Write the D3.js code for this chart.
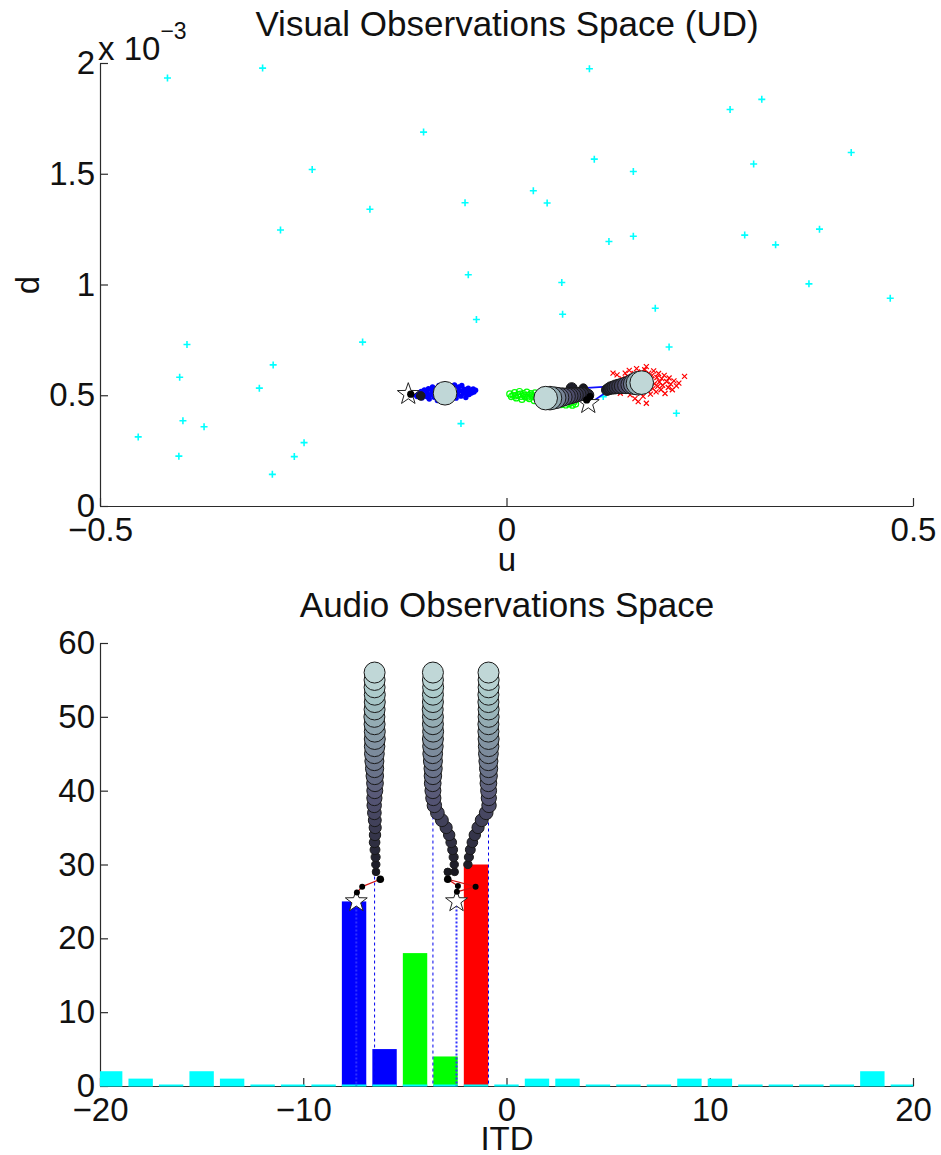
<!DOCTYPE html>
<html><head><meta charset="utf-8">
<script src="https://cdn.jsdelivr.net/npm/d3@7"></script>
<style>
body{margin:0;background:#fff}
svg{display:block}
text{font-family:"Liberation Sans",Arial,Helvetica,sans-serif;fill:#111}
</style>
</head><body>
<svg id="chart" width="941" height="1155"></svg>
<script>
// ---------------- DATA ----------------
const topXTicks = [-0.5, 0, 0.5];
const topXTickLabels = ["\u22120.5", "0", "0.5"];
const topYTicks = [0, 0.5, 1, 1.5, 2];
const topYTickLabels = ["0", "0.5", "1", "1.5", "2"];

const clutterUD = [[-0.417,1.932],[-0.300,1.977],[-0.102,1.688],[-0.239,1.519],[-0.051,1.369],[-0.168,1.340],[-0.278,1.246],[-0.047,1.044],[-0.037,0.842],[-0.177,0.740],[-0.393,0.729],[-0.287,0.637],[-0.402,0.581],[-0.304,0.532],[-0.056,0.372],[-0.398,0.385],[-0.372,0.358],[-0.453,0.312],[-0.249,0.286],[-0.403,0.225],[-0.261,0.223],[-0.288,0.143],[0.102,1.974],[0.314,1.836],[0.275,1.790],[0.424,1.596],[0.108,1.566],[0.304,1.544],[0.156,1.510],[0.033,1.423],[0.050,1.368],[0.385,1.250],[0.156,1.218],[0.293,1.223],[0.126,1.194],[0.331,1.179],[0.068,1.009],[0.372,1.003],[0.472,0.938],[0.183,0.893],[0.069,0.866],[0.200,0.718],[0.209,0.419],[0.119,0.494]];

const blueParticles = [[-0.112,0.502],[-0.110,0.494],[-0.109,0.510],[-0.107,0.499],[-0.105,0.517],[-0.104,0.488],[-0.102,0.506],[-0.101,0.524],[-0.099,0.495],[-0.098,0.513],[-0.096,0.530],[-0.095,0.483],[-0.094,0.502],[-0.092,0.521],[-0.091,0.538],[-0.089,0.491],[-0.088,0.509],[-0.086,0.527],[-0.085,0.476],[-0.083,0.544],[-0.082,0.498],[-0.080,0.516],[-0.079,0.534],[-0.077,0.485],[-0.076,0.472],[-0.074,0.505],[-0.073,0.541],[-0.071,0.523],[-0.070,0.479],[-0.068,0.495],[-0.067,0.531],[-0.065,0.512],[-0.064,0.546],[-0.062,0.487],[-0.061,0.502],[-0.059,0.537],[-0.058,0.520],[-0.056,0.496],[-0.055,0.544],[-0.053,0.509],[-0.052,0.527],[-0.050,0.490],[-0.049,0.515],[-0.047,0.532],[-0.046,0.503],[-0.044,0.520],[-0.043,0.510],[-0.041,0.528],[-0.040,0.515],[-0.038,0.523],[-0.108,0.505],[-0.097,0.492],[-0.090,0.515],[-0.084,0.503],[-0.078,0.522],[-0.072,0.510],[-0.066,0.498],[-0.060,0.512],[-0.054,0.520],[-0.048,0.508]];

const greenParticles = [[0.004,0.506],[0.006,0.494],[0.008,0.500],[0.010,0.512],[0.012,0.488],[0.014,0.503],[0.016,0.517],[0.018,0.495],[0.019,0.481],[0.021,0.508],[0.023,0.492],[0.025,0.514],[0.027,0.500],[0.028,0.485],[0.030,0.507],[0.032,0.494],[0.034,0.476],[0.035,0.511],[0.037,0.498],[0.039,0.486],[0.041,0.503],[0.043,0.472],[0.045,0.492],[0.047,0.509],[0.049,0.480],[0.051,0.497],[0.053,0.468],[0.055,0.486],[0.057,0.503],[0.059,0.474],[0.061,0.462],[0.063,0.489],[0.065,0.470],[0.067,0.458],[0.069,0.481],[0.071,0.466],[0.073,0.456],[0.075,0.473],[0.077,0.462],[0.079,0.468],[0.081,0.455],[0.083,0.470],[0.085,0.460],[0.011,0.497],[0.017,0.505],[0.022,0.500],[0.026,0.491],[0.031,0.501],[0.036,0.490],[0.040,0.495]];

const redParticles = [[0.131,0.600],[0.136,0.592],[0.138,0.560],[0.140,0.509],[0.142,0.575],[0.144,0.545],[0.146,0.600],[0.147,0.528],[0.149,0.585],[0.150,0.560],[0.151,0.612],[0.152,0.502],[0.154,0.540],[0.155,0.578],[0.156,0.520],[0.157,0.598],[0.158,0.485],[0.159,0.565],[0.160,0.620],[0.161,0.530],[0.162,0.471],[0.163,0.590],[0.164,0.548],[0.165,0.510],[0.166,0.605],[0.167,0.575],[0.168,0.495],[0.169,0.535],[0.170,0.615],[0.171,0.555],[0.172,0.464],[0.172,0.629],[0.173,0.585],[0.174,0.520],[0.175,0.600],[0.176,0.545],[0.177,0.505],[0.178,0.570],[0.179,0.590],[0.180,0.530],[0.181,0.610],[0.182,0.552],[0.184,0.515],[0.185,0.580],[0.186,0.540],[0.187,0.598],[0.188,0.560],[0.190,0.525],[0.191,0.575],[0.192,0.545],[0.194,0.590],[0.195,0.508],[0.197,0.562],[0.199,0.535],[0.200,0.578],[0.202,0.550],[0.204,0.525],[0.206,0.565],[0.209,0.542],[0.212,0.555],[0.219,0.585]];

// visual tracks: [t, u, d]
const visualTrackBlue = [[29,-0.1055,0.497],[56,-0.0756,0.509]];
const visualTrackGreen = [[29,0.0945,0.532],[30,0.0802,0.532],[31,0.1002,0.501],[32,0.0966,0.506],[33,0.0929,0.506],[34,0.0892,0.504],[35,0.0855,0.501],[36,0.0818,0.499],[37,0.0781,0.497],[38,0.0744,0.495],[40,0.0695,0.492],[42,0.0646,0.490],[45,0.0597,0.488],[50,0.0535,0.487],[56,0.0482,0.487]];
const visualTrackRed = [[30,0.1236,0.524],[31,0.1261,0.529],[32,0.1285,0.533],[33,0.1316,0.535],[34,0.1347,0.538],[35,0.1384,0.540],[36,0.1421,0.542],[38,0.147,0.545],[40,0.1519,0.548],[44,0.1568,0.551],[50,0.1617,0.554],[56,0.1663,0.557]];
const visualLinks = [[0.0945,0.532,0.1236,0.539],[0.1027,0.464,0.1236,0.516]];
const visualDots = [[-0.1178,0.505],[0.0986,0.479],[0.1027,0.494]];
const visualStars = [[-0.1208,0.505],[0.1006,0.464]];

// Bottom panel
const bottomXTicks = [-20, -10, 0, 10, 20];
const bottomXTickLabels = ["\u221220", "\u221210", "0", "10", "20"];
const bottomYTicks = [0, 10, 20, 30, 40, 50, 60];
const bottomYTickLabels = ["0", "10", "20", "30", "40", "50", "60"];

const itdBinCenters = [-19.5,-18,-16.5,-15,-13.5,-12,-10.5,-9,-7.5,-6,-4.5,-3,-1.5,0,1.5,3,4.5,6,7.5,9,10.5,12,13.5,15,16.5,18,19.5];
const clutterCounts = [2,1,0,2,1,0,0,0,0,0,0,0,0,0,1,1,0,0,0,1,1,0,0,0,0,2,0];
const blueBars = [[-7.5,25],[-6,5]];
const greenBars = [[-4.5,18],[-3,4]];
const redBars = [[-1.5,30]];

// audio tracks: [t, itd]
const audioTrackA = [[29,-6.42],[30,-6.43],[31,-6.44],[32,-6.47],[33,-6.49],[34,-6.47],[35,-6.46],[36,-6.48],[37,-6.50],[38,-6.51],[39,-6.50],[40,-6.48],[41,-6.47],[42,-6.48],[43,-6.49],[44,-6.50],[45,-6.50],[46,-6.49],[47,-6.48],[48,-6.48],[49,-6.49],[50,-6.50],[51,-6.49],[52,-6.48],[53,-6.48],[54,-6.49],[55,-6.49],[56,-6.49]];
const audioTrackB = [[29,-2.89],[30,-2.57],[31,-2.60],[32,-2.65],[33,-2.72],[34,-2.82],[35,-2.97],[36,-3.18],[37,-3.40],[38,-3.55],[39,-3.60],[40,-3.62],[41,-3.63],[42,-3.62],[43,-3.61],[44,-3.62],[45,-3.63],[46,-3.62],[47,-3.62],[48,-3.61],[49,-3.62],[50,-3.62],[51,-3.63],[52,-3.62],[53,-3.62],[54,-3.61],[55,-3.62],[56,-3.62]];
const audioTrackC = [[29,-2.55],[30,-1.90],[31,-1.85],[32,-1.78],[33,-1.68],[34,-1.56],[35,-1.40],[36,-1.22],[37,-1.00],[38,-0.86],[39,-0.87],[40,-0.88],[41,-0.89],[42,-0.88],[43,-0.88],[44,-0.89],[45,-0.89],[46,-0.88],[47,-0.88],[48,-0.89],[49,-0.89],[50,-0.88],[51,-0.88],[52,-0.89],[53,-0.89],[54,-0.88],[55,-0.88],[56,-0.885]];
const audioFinalItd = [-6.49, -3.62, -0.885];
const audioStars = [[-7.39,25],[-2.46,25]];
const audioDots = [[-6.21,28],[-7.10,27],[-7.36,26.2],[-2.89,28],[-2.39,27.1],[-1.52,27.0],[-2.44,26.3]];
const audioLinks = [[-6.21,28,-7.10,27],[-7.10,27,-7.36,26.2],[-2.89,28,-2.39,27.1],[-2.89,28,-1.52,27.0],[-1.52,27.0,-2.44,26.3]];

// ---------------- DRAWING ----------------
const svg = d3.select("#chart");
const FS = 33;
const TFS = 35;
const axisColor = "#2b2b2b";

function bone(x){
  const cl = v => Math.max(0, Math.min(1, v));
  const hr = cl(x*8/3), hg = cl((x-3/8)*8/3), hb = cl((x-3/4)*4);
  return d3.rgb(255*(7*x+hb)/8, 255*(7*x+hg)/8, 255*(7*x+hr)/8);
}
const tColor = t => t <= 28 ? "#000" : bone(0.08 + (t-28)/28*0.74);
const rBottom = t => t <= 28 ? 3.7 : Math.min(10.5, 3.8 + (t-29)*0.38);
const rTop = t => t <= 29 ? 4.3 : Math.min(11.8, 5.5 + (t-30)*0.36);

function starPath(R){
  const r = R*0.4; let p = "";
  for (let i=0;i<10;i++){
    const a = -Math.PI/2 + i*Math.PI/5, rr = i%2 ? r : R;
    p += (i ? "L" : "M") + (rr*Math.cos(a)).toFixed(2) + "," + (rr*Math.sin(a)).toFixed(2);
  }
  return p + "Z";
}

function styleAxis(g){
  g.selectAll("path.domain").attr("stroke", axisColor).attr("stroke-width", 1.2);
  g.selectAll(".tick line").attr("stroke", axisColor).attr("stroke-width", 1.2);
  g.selectAll(".tick text").attr("font-size", FS).attr("fill", "#111")
   .attr("font-family", '"Liberation Sans",Arial,Helvetica,sans-serif');
}

// ===== TOP PANEL =====
const xU = d3.scaleLinear().domain([-0.5, 0.5]).range([100, 913]);
const yD = d3.scaleLinear().domain([0, 2]).range([506, 63]);

const defs = svg.append("defs");
defs.append("clipPath").attr("id","clipTop")
  .append("rect").attr("x",100).attr("y",63).attr("width",813).attr("height",443);
defs.append("clipPath").attr("id","clipBot")
  .append("rect").attr("x",100).attr("y",600).attr("width",813).attr("height",487);

const gTopX = svg.append("g").attr("transform","translate(0,506)")
  .call(d3.axisBottom(xU).tickValues(topXTicks).tickFormat((d,i)=>topXTickLabels[i]).tickSizeInner(-8).tickSizeOuter(0).tickPadding(12));
styleAxis(gTopX);
const gTopY = svg.append("g").attr("transform","translate(100,0)")
  .call(d3.axisLeft(yD).tickValues(topYTicks).tickFormat((d,i)=>topYTickLabels[i]).tickSizeInner(-8).tickSizeOuter(0).tickPadding(5));
styleAxis(gTopY);

const gTop = svg.append("g").attr("clip-path","url(#clipTop)");

gTop.selectAll("path.clut").data(clutterUD).join("path").attr("class","clut")
  .attr("transform", d => `translate(${xU(d[0])},${yD(d[1])})`)
  .attr("d","M-3.5,0H3.5M0,-3.5V3.5").attr("stroke","#00ffff").attr("stroke-width",1.6).attr("fill","none");

gTop.selectAll("circle.bp").data(blueParticles).join("circle").attr("class","bp")
  .attr("cx", d=>xU(d[0])).attr("cy", d=>yD(d[1])).attr("r",2.7).attr("fill","#0000ff");
gTop.selectAll("circle.gp").data(greenParticles).join("circle").attr("class","gp")
  .attr("cx", d=>xU(d[0])).attr("cy", d=>yD(d[1])).attr("r",3).attr("fill","none").attr("stroke","#00ff00").attr("stroke-width",1.2);
gTop.selectAll("path.rp").data(redParticles).join("path").attr("class","rp")
  .attr("transform", d => `translate(${xU(d[0])},${yD(d[1])})`)
  .attr("d","M-2.5,-2.5L2.5,2.5M-2.5,2.5L2.5,-2.5").attr("stroke","#ff0000").attr("stroke-width",1.2);

gTop.selectAll("line.vl").data(visualLinks).join("line").attr("class","vl")
  .attr("x1",d=>xU(d[0])).attr("y1",d=>yD(d[1])).attr("x2",d=>xU(d[2])).attr("y2",d=>yD(d[3]))
  .attr("stroke","#1010ff").attr("stroke-width",1.6);

gTop.selectAll("path.vs").data(visualStars).join("path").attr("class","vs")
  .attr("transform", d => `translate(${xU(d[0])},${yD(d[1])})`)
  .attr("d", starPath(11.5)).attr("fill","#fff").attr("stroke","#222").attr("stroke-width",1);

[visualTrackGreen, visualTrackRed, visualTrackBlue].forEach(tr => {
  gTop.append("g").selectAll("circle").data(tr).join("circle")
    .attr("cx", d=>xU(d[1])).attr("cy", d=>yD(d[2])).attr("r", d=>rTop(d[0]))
    .attr("fill", d=>tColor(d[0])).attr("stroke","#1a1a1a").attr("stroke-width",1);
});
gTop.selectAll("circle.vd").data(visualDots).join("circle").attr("class","vd")
  .attr("cx", d=>xU(d[0])).attr("cy", d=>yD(d[1])).attr("r",3.6).attr("fill","#000");

svg.append("text").attr("x",507).attr("y",36).attr("text-anchor","middle").attr("font-size",TFS)
  .text("Visual Observations Space (UD)");
svg.append("text").attr("x",507).attr("y",571).attr("text-anchor","middle").attr("font-size",FS).text("u");
svg.append("text").attr("transform","translate(39,285) rotate(-90)").attr("text-anchor","middle").attr("font-size",FS).text("d");
const sci = svg.append("text").attr("x",98).attr("y",60).attr("font-size",FS);
sci.append("tspan").text("x 10");
sci.append("tspan").attr("font-size",23).attr("dy",-21).text("\u22123");

// ===== BOTTOM PANEL =====
const xI = d3.scaleLinear().domain([-20, 20]).range([100, 913]);
const yT = d3.scaleLinear().domain([0, 60]).range([1086, 643]);

const gBotX = svg.append("g").attr("transform","translate(0,1086)")
  .call(d3.axisBottom(xI).tickValues(bottomXTicks).tickFormat((d,i)=>bottomXTickLabels[i]).tickSizeInner(-8).tickSizeOuter(0).tickPadding(12));
styleAxis(gBotX);
const gBotY = svg.append("g").attr("transform","translate(100,0)")
  .call(d3.axisLeft(yT).tickValues(bottomYTicks).tickFormat((d,i)=>bottomYTickLabels[i]).tickSizeInner(-8).tickSizeOuter(0).tickPadding(5));
styleAxis(gBotY);

const gBot = svg.append("g").attr("clip-path","url(#clipBot)");
const barW = 1.2;
function drawBars(data, color){
  gBot.append("g").selectAll("rect").data(data).join("rect")
    .attr("x", d=>xI(d[0]-barW/2)).attr("width", xI(barW)-xI(0))
    .attr("y", d=>yT(d[1])).attr("height", d=>yT(0)-yT(d[1]))
    .attr("fill", color);
}
drawBars(blueBars, "#0000ff");
drawBars(greenBars, "#00ff00");
drawBars(redBars, "#ff0000");
gBot.append("g").selectAll("rect").data(itdBinCenters.map((c,i)=>[c, clutterCounts[i]])).join("rect")
  .attr("x", d=>xI(d[0]-barW/2)).attr("width", xI(barW)-xI(0))
  .attr("y", d=>Math.min(yT(d[1]), yT(0)-1.5)).attr("height", d=>Math.max(yT(0)-yT(d[1]), 1.5)+0.5)
  .attr("fill", "#00ffff");

gBot.selectAll("line.fl").data(audioFinalItd).join("line").attr("class","fl")
  .attr("x1",d=>xI(d)).attr("x2",d=>xI(d)).attr("y1",yT(56)).attr("y2",yT(0))
  .attr("stroke","#0000ee").attr("stroke-width",1).attr("stroke-dasharray","3,3");
gBot.selectAll("line.sl").data(audioStars).join("line").attr("class","sl")
  .attr("x1",d=>xI(d[0])).attr("x2",d=>xI(d[0])).attr("y1",d=>yT(d[1])).attr("y2",yT(0))
  .attr("stroke","#3030ff").attr("stroke-width",2).attr("stroke-dasharray","2,2");

[audioTrackA, audioTrackB, audioTrackC].forEach(tr => {
  gBot.append("g").selectAll("circle").data(tr).join("circle")
    .attr("cx", d=>xI(d[1])).attr("cy", d=>yT(d[0])).attr("r", d=>rBottom(d[0]))
    .attr("fill", d=>tColor(d[0])).attr("stroke","#1a1a1a").attr("stroke-width",1);
});
gBot.selectAll("line.al").data(audioLinks).join("line").attr("class","al")
  .attr("x1",d=>xI(d[0])).attr("y1",d=>yT(d[1])).attr("x2",d=>xI(d[2])).attr("y2",d=>yT(d[3]))
  .attr("stroke","#d01010").attr("stroke-width",1.2);
gBot.selectAll("path.as").data(audioStars).join("path").attr("class","as")
  .attr("transform", d => `translate(${xI(d[0])},${yT(d[1])})`)
  .attr("d", starPath(11.5)).attr("fill","#fff").attr("stroke","#222").attr("stroke-width",1);
gBot.selectAll("circle.ad").data(audioDots).join("circle").attr("class","ad")
  .attr("cx", d=>xI(d[0])).attr("cy", d=>yT(d[1])).attr("r", d=> d[1] >= 28 ? 3.8 : 3)
  .attr("fill","#000");

svg.append("text").attr("x",507).attr("y",617).attr("text-anchor","middle").attr("font-size",TFS)
  .text("Audio Observations Space");
svg.append("text").attr("x",507).attr("y",1150).attr("text-anchor","middle").attr("font-size",FS).text("ITD");
</script>
</body></html>
